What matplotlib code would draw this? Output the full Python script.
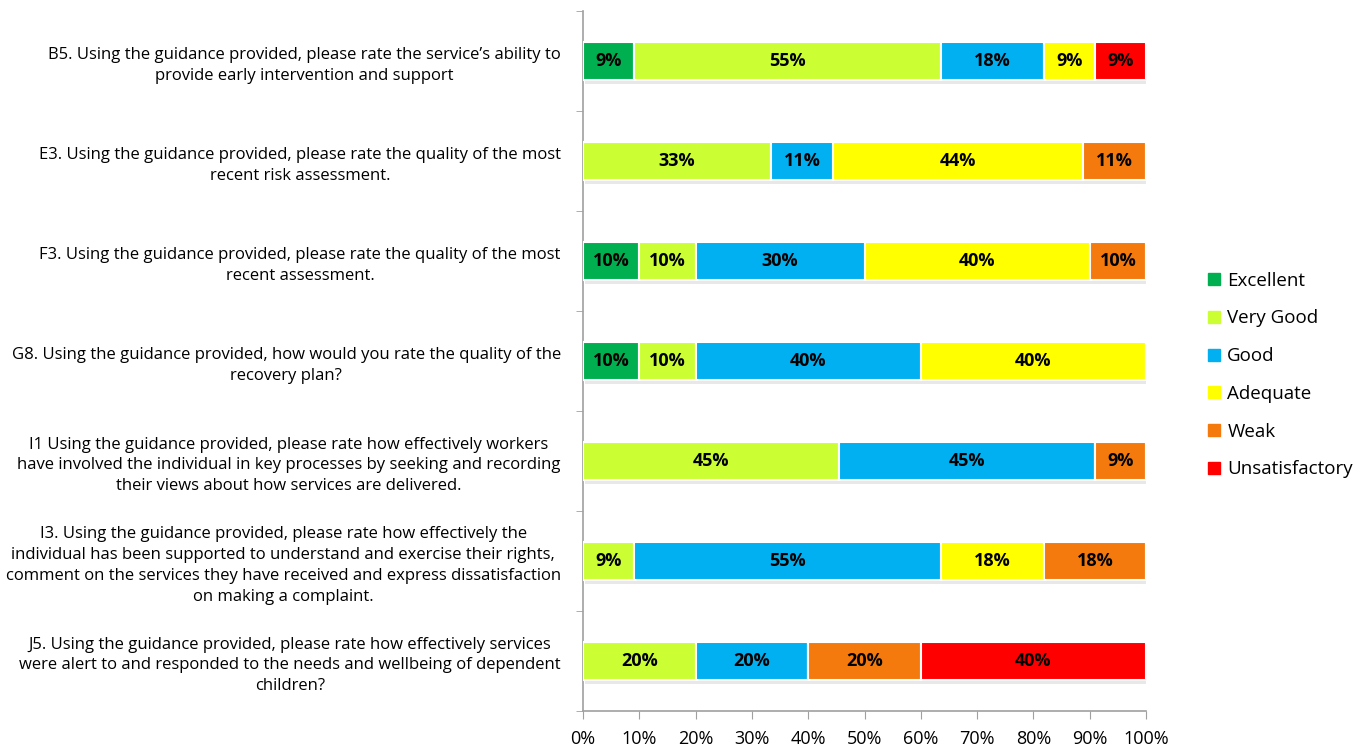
import matplotlib
matplotlib.use("Agg")
import matplotlib.pyplot as plt
import matplotlib.patheffects as pe
from matplotlib.lines import Line2D
from matplotlib.ticker import PercentFormatter
import numpy as np

questions = [
    "B5. Using the guidance provided, please rate the service\u2019s ability to\nprovide early intervention and support",
    "E3. Using the guidance provided, please rate the quality of the most\nrecent risk assessment.",
    "F3. Using the guidance provided, please rate the quality of the most\nrecent assessment.",
    "G8. Using the guidance provided, how would you rate the quality of the\nrecovery plan?",
    "I1 Using the guidance provided, please rate how effectively workers\nhave involved the individual in key processes by seeking and recording\ntheir views about how services are delivered.",
    "I3. Using the guidance provided, please rate how effectively the\nindividual has been supported to understand and exercise their rights,\ncomment on the services they have received and express dissatisfaction\non making a complaint.",
    "J5. Using the guidance provided, please rate how effectively services\nwere alert to and responded to the needs and wellbeing of dependent\nchildren?",
]

ratings = ["Excellent", "Very Good", "Good", "Adequate", "Weak", "Unsatisfactory"]
colors = ["#00B050", "#CCFF33", "#00B0F0", "#FFFF00", "#F47A0E", "#FF0000"]

excellent      = [9.09, 0.0, 10.0, 10.0, 0.0, 0.0, 0.0]
very_good      = [54.55, 33.33, 10.0, 10.0, 45.45, 9.09, 20.0]
good           = [18.18, 11.11, 30.0, 40.0, 45.45, 54.55, 20.0]
adequate       = [9.09, 44.44, 40.0, 40.0, 0.0, 18.18, 0.0]
weak           = [0.0, 11.11, 10.0, 0.0, 9.09, 18.18, 20.0]
unsatisfactory = [9.09, 0.0, 0.0, 0.0, 0.0, 0.0, 40.0]

series = [excellent, very_good, good, adequate, weak, unsatisfactory]

FONT = ["Open Sans", "DejaVu Sans"]
plt.rcParams["font.family"] = FONT

fig = plt.figure(figsize=(13.62, 7.48), dpi=100)
ax = fig.add_axes([583 / 1362, 1 - 711 / 748, (1146 - 583) / 1362, (711 - 11) / 748])

y = np.arange(len(questions))
left = np.zeros(len(questions))
shadow = [pe.SimplePatchShadow(offset=(1.5, -3), shadow_rgbFace="#999999", alpha=0.22), pe.Normal()]
for vals, col in zip(series, colors):
    vals = np.array(vals)
    bars = ax.barh(y, vals, left=left, height=0.38, color=col,
                   edgecolor="white", linewidth=1.5, zorder=3)
    for b, v, l in zip(bars, vals, left):
        if v > 0:
            b.set_path_effects(shadow)
            ax.text(l + v / 2, b.get_y() + b.get_height() / 2, f"{v:.0f}%",
                    ha="center", va="center", fontsize=13, fontweight="bold",
                    color="black", zorder=4)
    left += vals

ax.set_xlim(0, 100)
ax.set_ylim(len(questions) - 0.5, -0.5)
ax.set_xticks(np.arange(0, 101, 10))
ax.xaxis.set_major_formatter(PercentFormatter(decimals=0))
ax.set_yticks(y)
ax.set_yticklabels(questions, multialignment="center", fontsize=12, linespacing=1.4)
ax.set_yticks(np.arange(-0.5, len(questions), 1), minor=True)
ax.tick_params(axis="y", which="major", length=0, pad=16)
ax.tick_params(axis="y", which="minor", length=5, color="#A0A0A0")
ax.tick_params(axis="x", length=6, color="#A0A0A0", labelsize=13, pad=8)

for s in ["top", "right"]:
    ax.spines[s].set_visible(False)
for s in ["left", "bottom"]:
    ax.spines[s].set_color("#A0A0A0")
    ax.spines[s].set_linewidth(1.2)

handles = [Line2D([], [], marker="s", linestyle="none", markersize=8,
                  markerfacecolor=c, markeredgecolor=c) for c in colors]
fig.legend(handles, ratings, loc="center left", bbox_to_anchor=(1188 / 1362, 1 - 375 / 748),
           frameon=False, fontsize=13.5, handletextpad=0.2, labelspacing=1.05,
           handlelength=1.0)

fig.savefig("out.png", dpi=100, facecolor="white")
